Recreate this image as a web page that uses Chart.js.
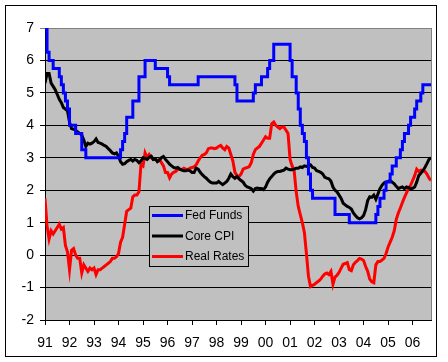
<!DOCTYPE html>
<html>
<head>
<meta charset="utf-8">
<script src="https://cdn.jsdelivr.net/npm/chart.js@4/dist/chart.umd.min.js"></script>
<style>
  html, body { margin: 0; padding: 0; background: #fff; }
  canvas { display: block; }
</style>
</head>
<body>
<canvas id="ratesChart" width="448" height="362"></canvas>
<script>
// ==========================================================================
// DATA  (monthly, Jan 1991 .. Oct 2006)
// ==========================================================================
const yearLabels = ['91', '92', '93', '94', '95', '96', '97', '98', '99', '00', '01', '02', '03', '04', '05', '06'];
const seriesNames = ['Fed Funds', 'Core CPI', 'Real Rates'];

const fedFunds = [
    7.0, 6.25, 6.0, 6.0, 5.75, 5.75, 5.75, 5.5, 5.25, 5.0, 4.75, 4.5,
    4.0, 4.0, 4.0, 3.75, 3.75, 3.75, 3.25, 3.25, 3.0, 3.0, 3.0, 3.0,
    3.0, 3.0, 3.0, 3.0, 3.0, 3.0, 3.0, 3.0, 3.0, 3.0, 3.0, 3.0,
    3.0, 3.25, 3.5, 3.75, 4.25, 4.25, 4.25, 4.75, 4.75, 4.75, 5.5, 5.5,
    5.5, 6.0, 6.0, 6.0, 6.0, 6.0, 5.75, 5.75, 5.75, 5.75, 5.75, 5.75,
    5.5, 5.25, 5.25, 5.25, 5.25, 5.25, 5.25, 5.25, 5.25, 5.25, 5.25, 5.25,
    5.25, 5.25, 5.25, 5.5, 5.5, 5.5, 5.5, 5.5, 5.5, 5.5, 5.5, 5.5,
    5.5, 5.5, 5.5, 5.5, 5.5, 5.5, 5.5, 5.5, 5.5, 5.25, 4.75, 4.75,
    4.75, 4.75, 4.75, 4.75, 4.75, 4.75, 5.0, 5.25, 5.25, 5.25, 5.5, 5.5,
    5.5, 5.75, 6.0, 6.0, 6.5, 6.5, 6.5, 6.5, 6.5, 6.5, 6.5, 6.5,
    6.0, 5.5, 5.5, 5.0, 4.5, 4.0, 3.75, 3.5, 3.0, 2.5, 2.0, 1.75,
    1.75, 1.75, 1.75, 1.75, 1.75, 1.75, 1.75, 1.75, 1.75, 1.75, 1.25, 1.25,
    1.25, 1.25, 1.25, 1.25, 1.25, 1.0, 1.0, 1.0, 1.0, 1.0, 1.0, 1.0,
    1.0, 1.0, 1.0, 1.0, 1.0, 1.0, 1.25, 1.5, 1.75, 1.75, 2.0, 2.25,
    2.25, 2.5, 2.75, 2.75, 3.0, 3.0, 3.25, 3.5, 3.75, 3.75, 4.0, 4.25,
    4.25, 4.5, 4.75, 4.75, 5.0, 5.25, 5.25, 5.25, 5.25, 5.25
];

const coreCpi = [
    5.3, 5.6, 5.6, 5.3, 5.2, 5.1, 4.95, 4.8, 4.7, 4.55, 4.5, 4.45,
    4.1, 3.9, 3.88, 3.85, 3.8, 3.75, 3.7, 3.55, 3.35, 3.45, 3.42, 3.45,
    3.5, 3.58, 3.47, 3.45, 3.42, 3.38, 3.35, 3.28, 3.22, 3.15, 3.12, 3.15,
    3.05, 2.88, 2.8, 2.82, 2.88, 2.92, 2.95, 2.9, 2.95, 2.92, 2.85, 2.9,
    3.0, 2.98, 2.95, 3.02, 3.05, 2.95, 2.97, 2.88, 2.93, 3.0, 3.04, 2.95,
    2.88, 2.8, 2.75, 2.7, 2.68, 2.7, 2.65, 2.62, 2.6, 2.6, 2.62, 2.6,
    2.55, 2.55, 2.68, 2.65, 2.55, 2.48, 2.42, 2.37, 2.3, 2.25, 2.22, 2.22,
    2.22, 2.27, 2.22, 2.17, 2.22, 2.27, 2.37, 2.5, 2.42, 2.37, 2.42, 2.35,
    2.3, 2.25, 2.15, 2.1, 2.08, 2.05, 1.97, 2.05, 2.07, 2.05, 2.05, 2.02,
    2.1, 2.25, 2.35, 2.42, 2.5, 2.55, 2.58, 2.58, 2.6, 2.62, 2.68, 2.65,
    2.63, 2.63, 2.65, 2.68, 2.68, 2.72, 2.7, 2.75, 2.73, 2.75, 2.78, 2.7,
    2.68, 2.6, 2.58, 2.55, 2.5, 2.4, 2.37, 2.35, 2.28, 2.1, 2.0, 1.95,
    1.85, 1.75, 1.6, 1.55, 1.5, 1.47, 1.42, 1.3, 1.22, 1.15, 1.12, 1.15,
    1.22, 1.4, 1.68, 1.8, 1.78, 1.85, 1.72, 1.88, 2.05, 2.15, 2.22, 2.25,
    2.27, 2.3, 2.25, 2.2, 2.12, 2.05, 2.08, 2.1, 2.05, 2.1, 2.08, 2.05,
    2.06, 2.1, 2.25, 2.45, 2.52, 2.6, 2.7, 2.82, 2.95, 3.0
];

const realRates = [
    1.75, 0.9, 0.5, 0.75, 0.65, 0.75, 0.85, 0.95, 0.8, 0.85, 0.3, 0.1,
    -0.45, 0.15, 0.2, 0.0, -0.1, -0.1, -0.55, -0.3, -0.4, -0.5, -0.4, -0.45,
    -0.4, -0.6, -0.45, -0.45, -0.4, -0.35, -0.3, -0.25, -0.2, -0.1, -0.1, -0.05,
    0.05, 0.4, 0.55, 0.95, 1.35, 1.4, 1.45, 1.8, 1.85, 1.85, 1.95, 2.8,
    2.75, 3.15, 3.0, 3.1, 3.0, 2.95, 2.95, 2.9, 2.95, 2.85, 2.75, 2.55,
    2.55, 2.38, 2.5, 2.55, 2.58, 2.65, 2.65, 2.63, 2.68, 2.65, 2.63, 2.68,
    2.7, 2.72, 2.78, 2.9, 3.0, 3.08, 3.1, 3.15, 3.28, 3.3, 3.3, 3.28,
    3.3, 3.35, 3.38, 3.3, 3.25, 3.35, 3.3, 3.1, 2.9, 2.55, 2.45, 2.42,
    2.5, 2.65, 2.68, 2.7, 2.73, 2.85, 3.1, 3.25, 3.3, 3.35, 3.45, 3.55,
    3.65, 3.6, 3.6, 4.05, 4.1, 4.0, 3.95, 3.9, 3.95, 3.95, 3.85, 3.75,
    2.95, 2.75, 2.6, 1.95, 1.5, 1.25, 1.0, 0.7, 0.05, -0.65, -0.97, -0.93,
    -0.9, -0.84, -0.8, -0.74, -0.65, -0.58, -0.55, -0.6, -0.5, -0.9, -0.68, -0.62,
    -0.53, -0.4, -0.28, -0.26, -0.23, -0.45, -0.48, -0.3, -0.22, -0.17, -0.1, -0.12,
    -0.17, -0.35, -0.5, -0.74, -0.82, -0.85, -0.3, -0.2, -0.2, -0.15, -0.1, 0.05,
    0.25, 0.4, 0.55, 0.75, 1.1, 1.3, 1.45, 1.62, 1.78, 1.92, 2.05, 2.15,
    2.3, 2.45, 2.65, 2.58, 2.62, 2.6, 2.58, 2.5, 2.38, 2.3
];

// ==========================================================================
// CHART SETUP
// ==========================================================================
Chart.defaults.font.family = 'Arial, "Liberation Sans", sans-serif';
Chart.defaults.color = '#000';

// month index -> {x, y} so the x axis can be a plain linear month scale
const toPoints = (arr) => arr.map((v, i) => ({ x: i, y: v }));

// Grey plot area, outer frame, right plot border and the boxed legend
const framePlugin = {
    id: 'frame',
    beforeDraw(chart) {
        const { ctx, chartArea: a } = chart;
        ctx.save();
        ctx.fillStyle = '#fff';
        ctx.fillRect(0, 0, chart.width, chart.height);
        ctx.fillStyle = '#c0c0c0';
        ctx.fillRect(a.left, a.top, a.right - a.left, a.bottom - a.top);
        ctx.restore();
    },
    afterDraw(chart) {
        const { ctx, chartArea: a } = chart;
        ctx.save();
        // right edge of plot
        ctx.strokeStyle = '#808080';
        ctx.lineWidth = 1;
        ctx.beginPath();
        ctx.moveTo(Math.round(a.right) + 0.5, a.top);
        ctx.lineTo(Math.round(a.right) + 0.5, a.bottom);
        ctx.stroke();

        // outer chart border
        ctx.strokeStyle = '#000';
        ctx.strokeRect(5.5, 5.5, 431, 351);

        // legend box
        const bx = 149.5, by = 206.5, bw = 99, bh = 60;
        ctx.fillStyle = '#c0c0c0';
        ctx.fillRect(bx, by, bw, bh);
        ctx.strokeStyle = '#000';
        ctx.strokeRect(bx, by, bw, bh);

        ctx.font = '12px Arial, "Liberation Sans", sans-serif';
        ctx.textBaseline = 'middle';
        chart.data.datasets.forEach((ds, i) => {
            const y = 215.5 + i * 20.5;
            ctx.strokeStyle = ds.borderColor;
            ctx.lineWidth = 3;
            ctx.beginPath();
            ctx.moveTo(152, y);
            ctx.lineTo(183, y);
            ctx.stroke();
            ctx.fillStyle = '#000';
            ctx.fillText(ds.label, 185, y + 0.5);
        });
        ctx.restore();
    }
};

const lineStyle = {
    borderWidth: 3,
    pointRadius: 0,
    tension: 0,
    fill: false
};

new Chart(document.getElementById('ratesChart'), {
    type: 'line',
    data: {
        datasets: [
            { ...lineStyle, label: seriesNames[0], data: toPoints(fedFunds), borderColor: '#0000ff', stepped: true },
            { ...lineStyle, label: seriesNames[1], data: toPoints(coreCpi), borderColor: '#000000' },
            { ...lineStyle, label: seriesNames[2], data: toPoints(realRates), borderColor: '#ff0000' }
        ]
    },
    options: {
        responsive: false,
        animation: false,
        devicePixelRatio: 1,
        layout: { padding: { left: 0, top: 28, right: 17, bottom: 0 } },
        plugins: {
            legend: { display: false },
            tooltip: { enabled: false }
        },
        scales: {
            x: {
                type: 'linear',
                min: 0,
                max: fedFunds.length - 1,
                afterBuildTicks: (scale) => {
                    scale.ticks = yearLabels.map((lbl, i) => ({ value: i * 12 }));
                },
                afterFit: (scale) => { scale.height = 42; },
                grid: { display: true, drawOnChartArea: false, drawTicks: true, tickLength: 5, color: '#000' },
                border: { display: true, color: '#000', width: 1 },
                ticks: {
                    autoSkip: false,
                    maxRotation: 0,
                    padding: 10,
                    font: { size: 14 },
                    callback: (v, i) => yearLabels[i]
                }
            },
            y: {
                min: -2,
                max: 7,
                afterFit: (scale) => { scale.width = 45; },
                grid: {
                    color: (c) => (c.tick && c.tick.value === 7 ? '#808080' : '#000'),
                    tickLength: 5,
                    lineWidth: 1
                },
                border: { display: true, color: '#000', width: 1 },
                ticks: { stepSize: 1, padding: 6, font: { size: 14 } }
            }
        }
    },
    plugins: [framePlugin]
});
</script>
</body>
</html>
